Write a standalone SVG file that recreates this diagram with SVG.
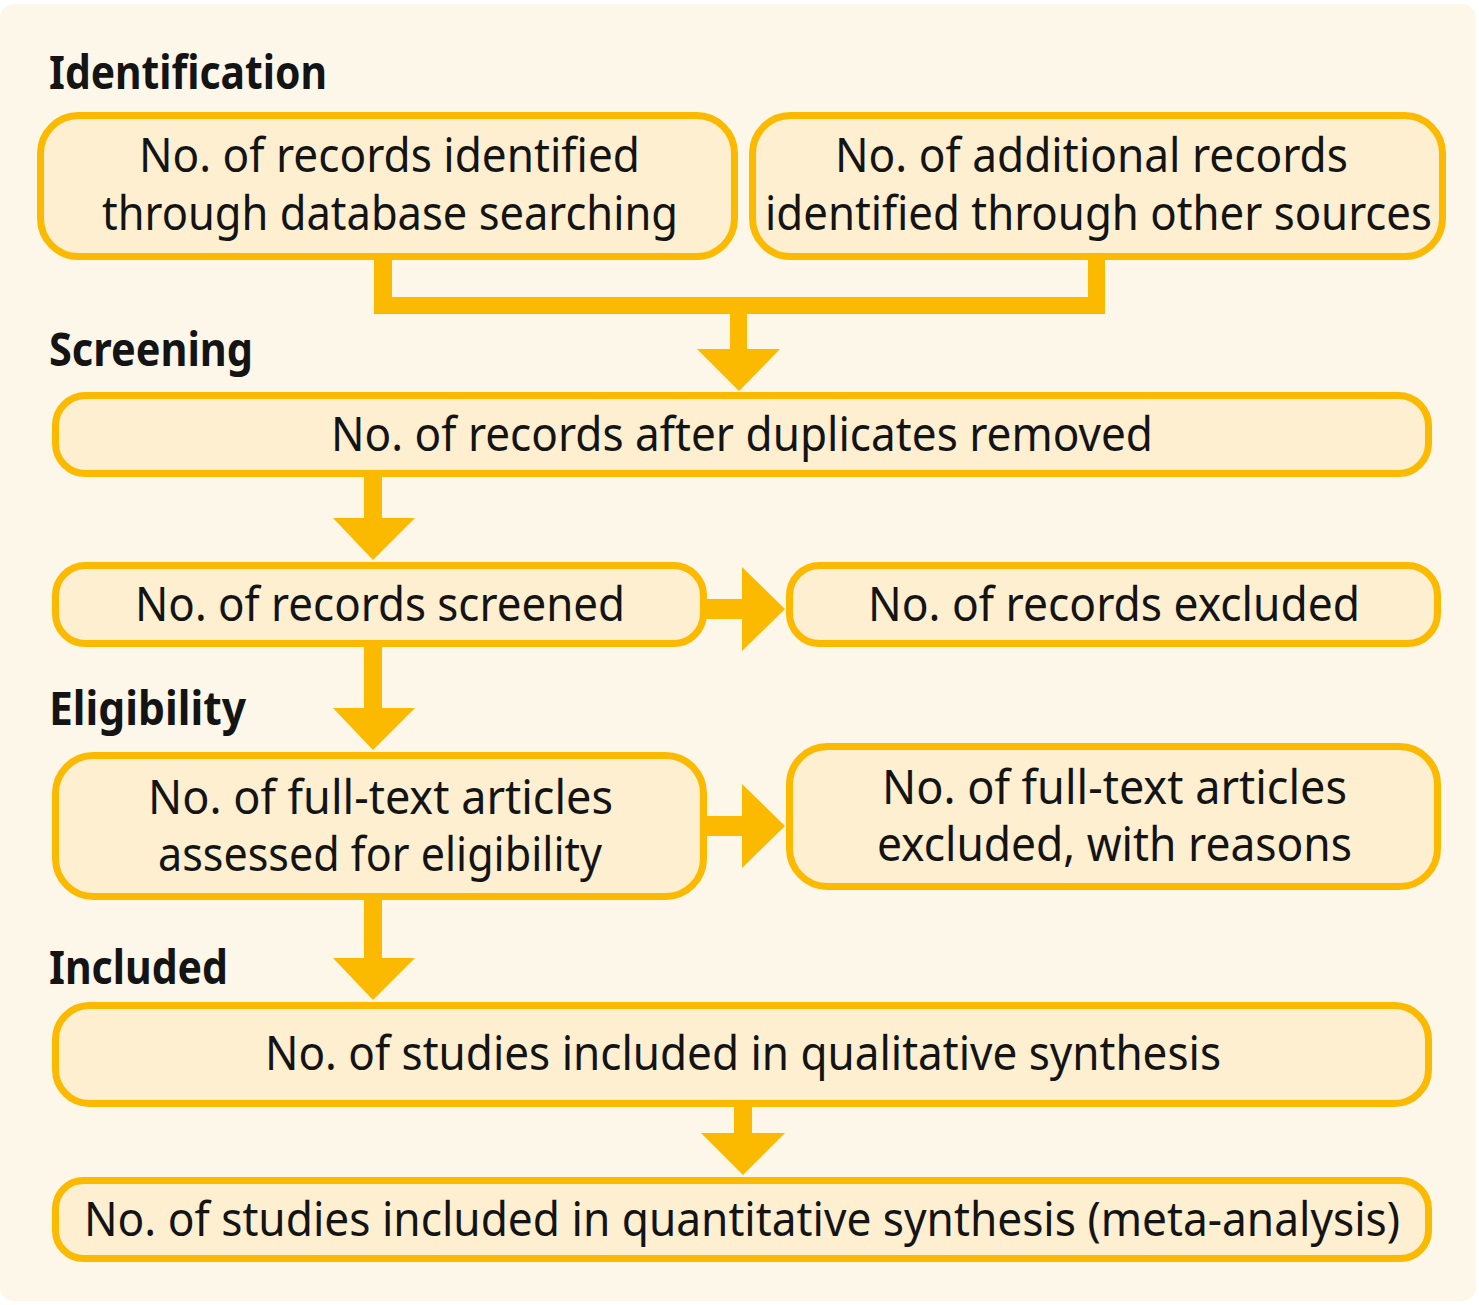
<svg xmlns="http://www.w3.org/2000/svg" width="1479" height="1305" viewBox="0 0 1479 1305">
  <style>
    .box { fill: #fdefd0; stroke: #fbb900; stroke-width: 7; }
    .flow { fill: #fbb900; }
    .label { font-family: "Noto Sans", "Open Sans", sans-serif; font-size: 48px; fill: #141414; text-anchor: start; }
    .stage { font-family: "Noto Sans", "Open Sans", sans-serif; font-size: 46px; font-weight: bold; fill: #141414; }
  </style>
  <rect width="1479" height="1305" fill="#ffffff"/>
  <rect x="0" y="4" width="1476" height="1297" rx="14" fill="#fdf7ea"/>

  <!-- stage headings -->
  <g id="stages">
    <text class="stage" x="49" y="89" textLength="278" lengthAdjust="spacingAndGlyphs">Identification</text>
    <text class="stage" x="49" y="366" textLength="204" lengthAdjust="spacingAndGlyphs">Screening</text>
    <text class="stage" x="49" y="725" textLength="197" lengthAdjust="spacingAndGlyphs">Eligibility</text>
    <text class="stage" x="49" y="984" textLength="179" lengthAdjust="spacingAndGlyphs">Included</text>
  </g>

  <!-- connectors: merge bar and block arrows -->
  <g id="connectors">
    <path class="flow" d="M374 258 H392 V297 H1088 V258 H1105 V314 H747 V349 H780 L739 391 L697 349 H730 V314 H374 Z"/>
    <path class="flow" d="M364 476 H382 V518 H415 L373 560 L333 518 H364 Z"/>
    <path class="flow" d="M702 599 H742 V567 L785 609 L742 651 V619 H702 Z"/>
    <path class="flow" d="M364 645 H382 V708 H415 L373 750 L333 708 H364 Z"/>
    <path class="flow" d="M702 816 H742 V784 L785 826 L742 868 V836 H702 Z"/>
    <path class="flow" d="M364 898 H382 V958 H415 L373 1000 L333 958 H364 Z"/>
    <path class="flow" d="M734 1105 H752 V1133 H785 L743 1175 L701 1133 H734 Z"/>
  </g>

  <g id="node-database">
    <rect class="box" x="40.5" y="115.5" width="694" height="141" rx="38"/>
    <text class="label" x="139" y="172" textLength="501" lengthAdjust="spacingAndGlyphs">No. of records identified</text>
    <text class="label" x="102" y="230" textLength="576" lengthAdjust="spacingAndGlyphs">through database searching</text>
  </g>

  <g id="node-other-sources">
    <rect class="box" x="752.5" y="115.5" width="690" height="141" rx="38"/>
    <text class="label" x="835" y="172" textLength="513" lengthAdjust="spacingAndGlyphs">No. of additional records</text>
    <text class="label" x="765" y="230" textLength="667" lengthAdjust="spacingAndGlyphs">identified through other sources</text>
  </g>

  <g id="node-duplicates-removed">
    <rect class="box" x="55.5" y="395.5" width="1373" height="78" rx="30"/>
    <text class="label" x="331" y="451" textLength="822" lengthAdjust="spacingAndGlyphs">No. of records after duplicates removed</text>
  </g>

  <g id="node-screened">
    <rect class="box" x="55.5" y="565.5" width="648" height="78" rx="30"/>
    <text class="label" x="135" y="621" textLength="490" lengthAdjust="spacingAndGlyphs">No. of records screened</text>
  </g>

  <g id="node-excluded">
    <rect class="box" x="789.5" y="565.5" width="648" height="78" rx="30"/>
    <text class="label" x="868" y="621" textLength="492" lengthAdjust="spacingAndGlyphs">No. of records excluded</text>
  </g>

  <g id="node-full-text">
    <rect class="box" x="55.5" y="755.5" width="648" height="141" rx="38"/>
    <text class="label" x="148" y="814" textLength="465" lengthAdjust="spacingAndGlyphs">No. of full-text articles</text>
    <text class="label" x="158" y="871" textLength="444" lengthAdjust="spacingAndGlyphs">assessed for eligibility</text>
  </g>

  <g id="node-full-text-excluded">
    <rect class="box" x="789.5" y="746.5" width="648" height="140" rx="38"/>
    <text class="label" x="882" y="804" textLength="465" lengthAdjust="spacingAndGlyphs">No. of full-text articles</text>
    <text class="label" x="877" y="861" textLength="475" lengthAdjust="spacingAndGlyphs">excluded, with reasons</text>
  </g>

  <g id="node-qualitative">
    <rect class="box" x="55.5" y="1005.5" width="1373" height="98" rx="34"/>
    <text class="label" x="265" y="1070" textLength="956" lengthAdjust="spacingAndGlyphs">No. of studies included in qualitative synthesis</text>
  </g>

  <g id="node-quantitative">
    <rect class="box" x="55.5" y="1180.5" width="1373" height="78" rx="28"/>
    <text class="label" x="84" y="1236" textLength="1316" lengthAdjust="spacingAndGlyphs">No. of studies included in quantitative synthesis (meta-analysis)</text>
  </g>
</svg>
